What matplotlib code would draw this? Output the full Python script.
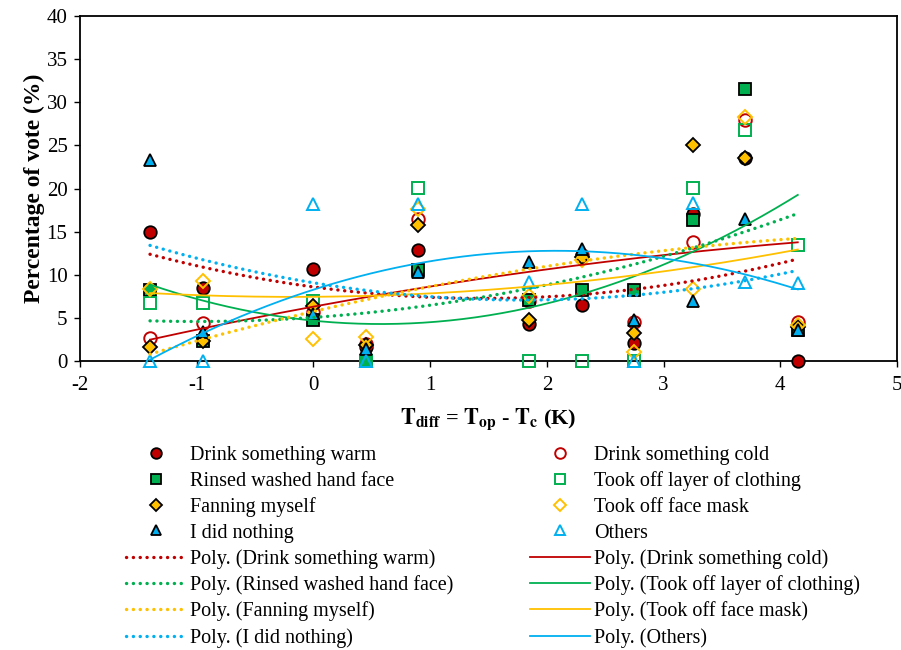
import numpy as np
import matplotlib
matplotlib.use("Agg")
import matplotlib.pyplot as plt

plt.rcParams['font.family'] = ['Liberation Serif', 'DejaVu Serif']
plt.rcParams['mathtext.fontset'] = 'stix'
plt.rcParams['axes.unicode_minus'] = False

# temperature difference (K)
t_diff = [-1.4, -0.95, 0.0, 0.45, 0.9, 1.85, 2.3, 2.75, 3.25, 3.7, 4.15]

# percentage of vote (%)
drink_warm = [14.9, 8.5, 10.7, 1.6, 12.9, 4.3, 6.5, 2.1, 17.1, 23.5, 0.0]
drink_cold = [2.7, 4.4, 5.7, 2.0, 16.5, 7.0, 12.3, 4.5, 13.8, 28.0, 4.5]
rinsed = [8.2, 2.3, 4.7, 0.0, 10.5, 7.1, 8.2, 8.2, 16.4, 31.5, 3.6]
took_off_layer = [6.7, 6.7, 6.9, 0.0, 20.1, 0.0, 0.0, 0.0, 20.1, 26.8, 13.4]
fanning = [1.6, 2.3, 6.4, 1.8, 15.8, 4.7, 12.1, 3.2, 25.0, 23.5, 3.9]
face_mask = [8.4, 9.3, 2.5, 2.8, 17.6, 7.5, 11.7, 1.0, 8.4, 28.3, 4.2]
did_nothing = [23.3, 3.4, 5.5, 1.4, 10.3, 11.5, 13.0, 4.7, 6.9, 16.5, 3.6]
others = [0.0, 0.0, 18.2, 0.0, 18.2, 9.2, 18.2, 0.0, 18.3, 9.2, 9.1]

RED, GREEN, YELLOW, BLUE = "#C00000", "#00B050", "#FFC000", "#00B0F0"

# (label, values, marker, colour, filled)
series = [
    ("Drink something warm", drink_warm, "o", RED, True),
    ("Drink something cold", drink_cold, "o", RED, False),
    ("Rinsed washed hand face", rinsed, "s", GREEN, True),
    ("Took off layer of clothing", took_off_layer, "s", GREEN, False),
    ("Fanning myself", fanning, "D", YELLOW, True),
    ("Took off face mask", face_mask, "D", YELLOW, False),
    ("I did nothing", did_nothing, "^", BLUE, True),
    ("Others", others, "^", BLUE, False),
]

fig = plt.figure(figsize=(9.01, 6.5), dpi=100)
ax = fig.add_axes([80 / 901, 1 - 361 / 650, 817 / 901, 345 / 650])

x = np.array(t_diff)
xs = np.linspace(x.min(), x.max(), 200)
sizes = {"o": 9, "s": 8.5, "D": 7.3, "^": 9}

marker_handles = {}
line_handles = {}
for i, (label, vals, mk, col, filled) in enumerate(series):
    y = np.array(vals)
    if filled:
        h, = ax.plot(x, y, ls="none", marker=mk, ms=sizes[mk], mfc=col, mec="black",
                     mew=1.3, clip_on=False, zorder=3 + i * 0.1, label=label)
    else:
        h, = ax.plot(x, y, ls="none", marker=mk, ms=sizes[mk], mfc="none", mec=col,
                     mew=1.4, clip_on=False, zorder=3 + i * 0.1, label=label)
    marker_handles[label] = h
    # excel-style polynomial trendline (order 2)
    coef = np.polyfit(x, y, 2)
    if filled:
        lh, = ax.plot(xs, np.polyval(coef, xs), color=col, lw=2.4, ls=(0, (0.05, 2.0)),
                      dash_capstyle="round", zorder=5, label="Poly. (%s)" % label)
    else:
        lh, = ax.plot(xs, np.polyval(coef, xs), color=col, lw=1.3, zorder=5,
                      label="Poly. (%s)" % label)
    line_handles[label] = lh

ax.set_xlim(-2, 5)
ax.set_ylim(0, 40)
ax.set_xticks(range(-2, 6))
ax.set_yticks(range(0, 41, 5))
ax.tick_params(direction="out", length=4, width=1, labelsize=15)
ax.tick_params(axis="y", pad=5)
ax.tick_params(axis="x", pad=7)
for sp in ax.spines.values():
    sp.set_linewidth(1.3)

ax.set_xlabel(r"$\mathbf{T}_{\mathbf{diff}}$ = $\mathbf{T}_{\mathbf{op}}$ - $\mathbf{T}_{\mathbf{c}}$ (K)",
              fontsize=16, fontweight="bold", labelpad=8)
ax.set_ylabel("Percentage of vote (%)", fontsize=17, fontweight="bold", labelpad=1)

left_labels = [s[0] for s in series if s[4]]
right_labels = [s[0] for s in series if not s[4]]

for labels, xpos in [(left_labels, 126 / 901), (right_labels, 530 / 901)]:
    hs = [marker_handles[l] for l in labels] + [line_handles[l] for l in labels]
    fig.legend(handles=hs, labels=[h.get_label() for h in hs], loc="upper left",
               bbox_to_anchor=(xpos, 1 - 446 / 650), frameon=False, fontsize=14.5,
               handlelength=3.0, handletextpad=0.2, labelspacing=0.32,
               borderpad=0, borderaxespad=0, markerscale=0.85)

fig.savefig("out.png", dpi=100)
